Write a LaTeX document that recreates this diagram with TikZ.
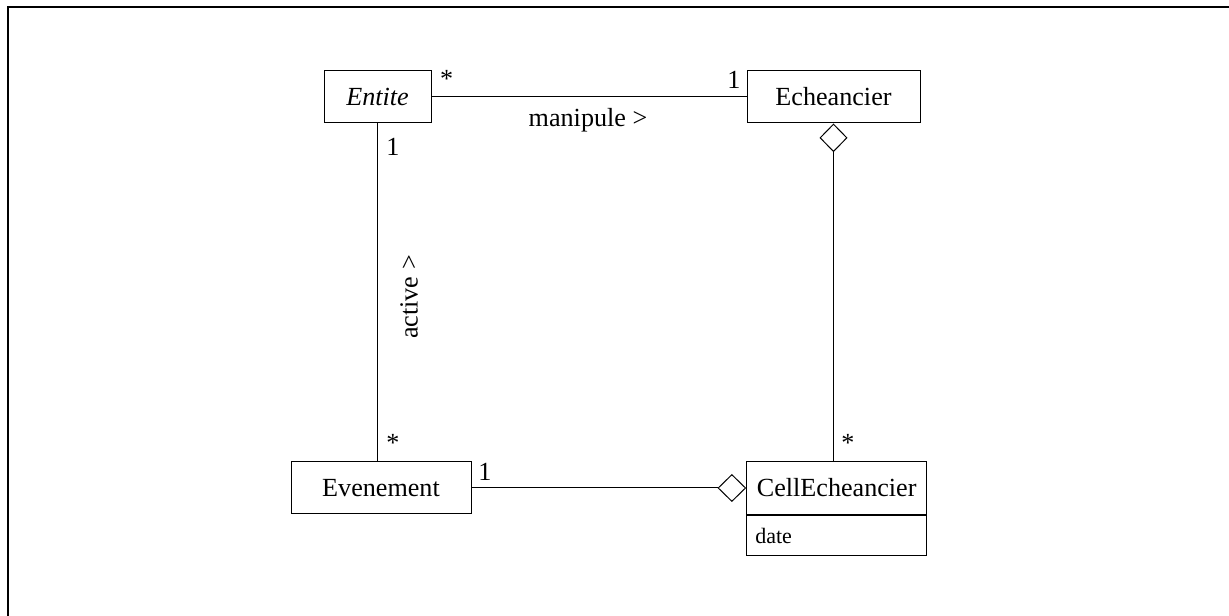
\documentclass[tikz,border=0pt]{standalone}
\usepackage{fontspec}
\setmainfont{Liberation Serif}
\usetikzlibrary{arrows.meta}
\begin{document}
\begin{tikzpicture}[x=0.75pt,y=-0.75pt,
  every node/.style={font=\fontsize{19.6pt}{23pt}\selectfont},
  classbox/.style={draw,line width=0.75pt,rectangle,inner sep=0pt,minimum height=39pt,anchor=center},
  assoc/.style={line width=0.75pt},
  agg/.style={line width=0.75pt,{Diamond[open,length=21.5pt,width=21pt]}-},
  mult/.style={inner sep=0pt,anchor=base},
  role/.style={inner sep=0pt}]
\useasboundingbox (0,0) rectangle (1229,616);
\draw[line width=2pt] (8,616) -- (8,7) -- (1229,7);
% classes
\node[classbox,minimum width=80.25pt] (ent) at (377.5,97) {\itshape Entite};
\node[classbox,minimum width=129.75pt] (ech) at (833.5,97) {Echeancier};
\node[classbox,minimum width=135pt] (ev) at (381,488) {Evenement};
\node[classbox,minimum width=135pt,minimum height=39.75pt] (cell) at (836.7,488) {CellEcheancier};
\node[draw,line width=0.75pt,rectangle,inner sep=0pt,minimum width=135pt,minimum height=30pt,anchor=north] (cellattr) at (cell.south) {};
\node[inner sep=0pt,anchor=base west,font=\fontsize{16.5pt}{19pt}\selectfont] (date) at (755,544) {date};
% associations
\draw[assoc] (ent.east) -- (ech.west);
\draw[assoc] (ent.south) -- (ent.south |- ev.north);
\draw[agg] (ech.south) -- (ech.south |- cell.north);
\draw[agg] (cell.west) -- (ev.east);
% labels
\node[mult] (m1) at (446.7,88) {*};
\node[mult] (m2) at (734,89) {1};
\node[mult] (m3) at (393,155.5) {1};
\node[mult] (m4) at (393,452) {*};
\node[mult] (m5) at (485,480.5) {1};
\node[mult] (m6) at (848,452) {*};
\node[mult] (manip) at (588,127) {manipule >};
\node[role,rotate=90] (act) at (409,297) {active >};
\end{tikzpicture}
\end{document}
